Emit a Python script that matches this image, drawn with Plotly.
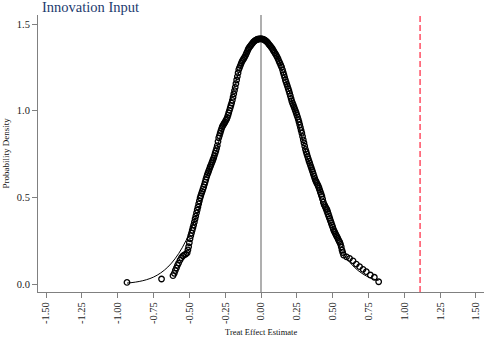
import plotly.graph_objects as go

# ---- data ----
title_text = "Innovation Input"
x_title = "Treat Effect Estimate"
y_title = "Probability Density"

x_tick_vals = [-1.5, -1.25, -1.0, -0.75, -0.5, -0.25, 0.0, 0.25, 0.5, 0.75, 1.0, 1.25, 1.5]
x_tick_text = ["-1.50", "-1.25", "-1.00", "-0.75", "-0.50", "-0.25", "0.00", "0.25", "0.50", "0.75", "1.00", "1.25", "1.50"]
y_tick_vals = [0.0, 0.5, 1.0, 1.5]
y_tick_text = ["0.0", "0.5", "1.0", "1.5"]

zero_x = 0.0
true_effect_x = 1.11

# fitted normal density curve
curve_x = [-0.935, -0.9, -0.85, -0.8, -0.75, -0.7, -0.65, -0.6, -0.55, -0.5, -0.45, -0.4, -0.35,
           -0.3, -0.25, -0.2, -0.15, -0.1, -0.05, 0.0, 0.05, 0.1, 0.15, 0.2, 0.25, 0.3, 0.35,
           0.4, 0.45, 0.5, 0.55, 0.6, 0.65, 0.7, 0.75, 0.8, 0.82]
curve_y = [0.0056, 0.0084, 0.0147, 0.0247, 0.040, 0.0639, 0.098, 0.1456, 0.209, 0.292, 0.394, 0.516, 0.654,
           0.803, 0.956, 1.102, 1.232, 1.333, 1.398, 1.42, 1.398, 1.333, 1.232, 1.102, 0.956, 0.803, 0.654,
           0.516, 0.394, 0.292, 0.209, 0.1456, 0.098, 0.0639, 0.040, 0.0247, 0.0201]

# placebo estimates and their kernel density (open circles)
est_x = [-0.935, -0.694, -0.614, -0.605, -0.598, -0.590, -0.583, -0.575, -0.565, -0.555, -0.545, -0.535, -0.525,
         -0.515, -0.510, -0.505, -0.500, -0.495, -0.490, -0.485, -0.480, -0.475, -0.470, -0.465, -0.460, -0.455,
         -0.450, -0.445, -0.440, -0.435, -0.430, -0.425, -0.420, -0.415, -0.410, -0.405, -0.400, -0.395, -0.390,
         -0.385, -0.380, -0.375, -0.370, -0.365, -0.360, -0.355, -0.350, -0.345, -0.340, -0.335, -0.330, -0.325,
         -0.320, -0.315, -0.310, -0.305, -0.300, -0.295, -0.290, -0.285, -0.280, -0.275, -0.270, -0.265, -0.260,
         -0.255, -0.250, -0.245, -0.240, -0.235, -0.230, -0.225, -0.220, -0.215, -0.210, -0.205, -0.200, -0.195,
         -0.190, -0.185, -0.180, -0.175, -0.170, -0.165, -0.160, -0.155, -0.150,
         -0.144, -0.138, -0.132, -0.126, -0.120, -0.114, -0.108, -0.102, -0.096, -0.090, -0.084, -0.078, -0.072,
         -0.066, -0.060, -0.054, -0.048, -0.042, -0.036, -0.030, -0.024, -0.018, -0.012, -0.006, 0.000, 0.006,
         0.012, 0.018, 0.024, 0.030, 0.036, 0.042, 0.048, 0.054, 0.060, 0.066, 0.072, 0.078, 0.084, 0.090, 0.096,
         0.102, 0.108, 0.114, 0.120, 0.126, 0.132, 0.138, 0.144,
         0.150, 0.155, 0.160, 0.165, 0.170, 0.175, 0.180, 0.185, 0.190, 0.195, 0.200, 0.205, 0.210, 0.215, 0.220,
         0.225, 0.230, 0.235, 0.240, 0.245, 0.250, 0.255, 0.260, 0.265, 0.270, 0.275, 0.280, 0.285, 0.290, 0.295,
         0.300, 0.305, 0.310, 0.315, 0.320, 0.325, 0.330, 0.335, 0.340, 0.345, 0.350, 0.355, 0.360, 0.365, 0.370,
         0.375, 0.380, 0.385, 0.390, 0.395, 0.400, 0.405, 0.410, 0.415, 0.420, 0.425, 0.430, 0.435, 0.440, 0.445,
         0.450, 0.455, 0.460, 0.465, 0.470, 0.475, 0.480, 0.485, 0.490, 0.495, 0.500, 0.505, 0.510, 0.515, 0.520,
         0.525, 0.530, 0.535, 0.540, 0.545, 0.550, 0.555, 0.560, 0.565, 0.570, 0.576,
         0.597, 0.618, 0.642, 0.665, 0.688, 0.712, 0.735, 0.763, 0.791, 0.821]
est_density = [0.009, 0.029, 0.048, 0.062, 0.078, 0.093, 0.108, 0.121, 0.138, 0.152, 0.162, 0.168, 0.173,
               0.180, 0.197, 0.215, 0.238, 0.261, 0.279, 0.294, 0.310, 0.325, 0.340, 0.357, 0.375, 0.392,
               0.410, 0.427, 0.444, 0.462, 0.479, 0.497, 0.510, 0.523, 0.535, 0.548, 0.560, 0.574, 0.588,
               0.603, 0.617, 0.630, 0.641, 0.652, 0.663, 0.675, 0.685, 0.696, 0.706, 0.717, 0.728, 0.741,
               0.755, 0.768, 0.782, 0.799, 0.822, 0.843, 0.856, 0.870, 0.884, 0.897, 0.908, 0.915, 0.922,
               0.929, 0.936, 0.944, 0.951, 0.961, 0.974, 0.988, 1.002, 1.016, 1.030, 1.044, 1.060, 1.078,
               1.097, 1.116, 1.135, 1.156, 1.177, 1.197, 1.218, 1.237, 1.248,
               1.260, 1.273, 1.285, 1.293, 1.301, 1.309, 1.319, 1.330, 1.341, 1.353, 1.362, 1.369, 1.375,
               1.382, 1.388, 1.395, 1.400, 1.404, 1.407, 1.410, 1.412, 1.413, 1.414, 1.414, 1.414, 1.414,
               1.413, 1.411, 1.408, 1.405, 1.401, 1.397, 1.391, 1.384, 1.378, 1.372, 1.365, 1.359, 1.350, 1.342, 1.334,
               1.326, 1.317, 1.308, 1.297, 1.285, 1.274, 1.262, 1.251,
               1.236, 1.221, 1.207, 1.192, 1.177, 1.165, 1.152, 1.140, 1.127, 1.114, 1.099, 1.085, 1.070, 1.055, 1.043,
               1.033, 1.022, 1.011, 1.000, 0.988, 0.975, 0.963, 0.950, 0.935, 0.919, 0.903, 0.886, 0.870, 0.851, 0.832,
               0.814, 0.795, 0.777, 0.763, 0.749, 0.735, 0.722, 0.709, 0.697, 0.685, 0.673, 0.660, 0.648, 0.635, 0.623,
               0.610, 0.598, 0.590, 0.581, 0.573, 0.564, 0.554, 0.542, 0.530, 0.518, 0.506, 0.490, 0.472, 0.460, 0.452,
               0.444, 0.437, 0.429, 0.417, 0.404, 0.392, 0.379, 0.366, 0.354, 0.341, 0.329, 0.316, 0.306, 0.298, 0.289,
               0.281, 0.273, 0.265, 0.256, 0.248, 0.240, 0.229, 0.214, 0.196, 0.182, 0.167,
               0.157, 0.148, 0.134, 0.115, 0.100, 0.085, 0.071, 0.052, 0.039, 0.013]

SERIF = "Liberation Serif, Times New Roman, serif"
AXIS_GRAY = "#808080"

fig = go.Figure()

fig.add_trace(go.Scatter(
    x=est_x, y=est_density, mode="markers",
    marker=dict(symbol="circle-open", size=5.5, color="black", line=dict(width=1.3, color="black")),
    showlegend=False, hoverinfo="skip",
))
fig.add_trace(go.Scatter(
    x=curve_x, y=curve_y, mode="lines",
    line=dict(color="black", width=1, shape="spline"),
    showlegend=False, hoverinfo="skip",
))

fig.add_shape(type="line", xref="x", yref="paper", x0=zero_x, x1=zero_x, y0=0, y1=1,
              line=dict(color="#7a7a7a", width=1.2), layer="below")
fig.add_shape(type="line", xref="x", yref="paper", x0=true_effect_x, x1=true_effect_x, y0=0, y1=1,
              line=dict(color="#ff4d63", width=1.5, dash="6px,3px"), layer="below")

fig.update_layout(
    width=484, height=338,
    margin=dict(l=38, r=0, t=15, b=46, autoexpand=False),
    paper_bgcolor="white", plot_bgcolor="white",
    font=dict(family=SERIF, color="#222222"),
    showlegend=False,
    xaxis=dict(
        range=[-1.556, 1.556], tickmode="array", tickvals=x_tick_vals, ticktext=x_tick_text,
        tickangle=-90, ticks="outside", ticklen=5, tickwidth=1, tickcolor=AXIS_GRAY,
        showline=True, linecolor=AXIS_GRAY, linewidth=1, showgrid=False, zeroline=False,
        tickfont=dict(family=SERIF, size=10.5, color="#222222"),
        ticklabeloverflow="allow", automargin=False,
    ),
    yaxis=dict(
        range=[-0.046, 1.552], tickmode="array", tickvals=y_tick_vals, ticktext=y_tick_text,
        ticks="outside", ticklen=5, tickwidth=1, tickcolor=AXIS_GRAY,
        showline=True, linecolor=AXIS_GRAY, linewidth=1, showgrid=False, zeroline=False,
        tickfont=dict(family=SERIF, size=10.5, color="#222222"),
        ticklabeloverflow="allow", automargin=False,
    ),
    annotations=[
        dict(text=title_text, xref="paper", yref="paper", x=0, y=1, xanchor="left", yanchor="middle",
             xshift=2, yshift=8, showarrow=False, font=dict(family=SERIF, size=14.5, color="#1c3a6e")),
        dict(text=x_title, xref="paper", yref="paper", x=0.5, y=0, xanchor="center", yanchor="middle",
             yshift=-40, showarrow=False, font=dict(family=SERIF, size=8.5, color="#111111")),
        dict(text=y_title, xref="paper", yref="paper", x=0, y=0.5, xanchor="center", yanchor="middle",
             xshift=-33, textangle=-90, showarrow=False, font=dict(family=SERIF, size=9, color="#111111")),
    ],
)

fig.write_html("out.html", config={"displayModeBar": False, "staticPlot": True},
               post_script="document.body.style.margin='0';document.body.style.padding='0';")
